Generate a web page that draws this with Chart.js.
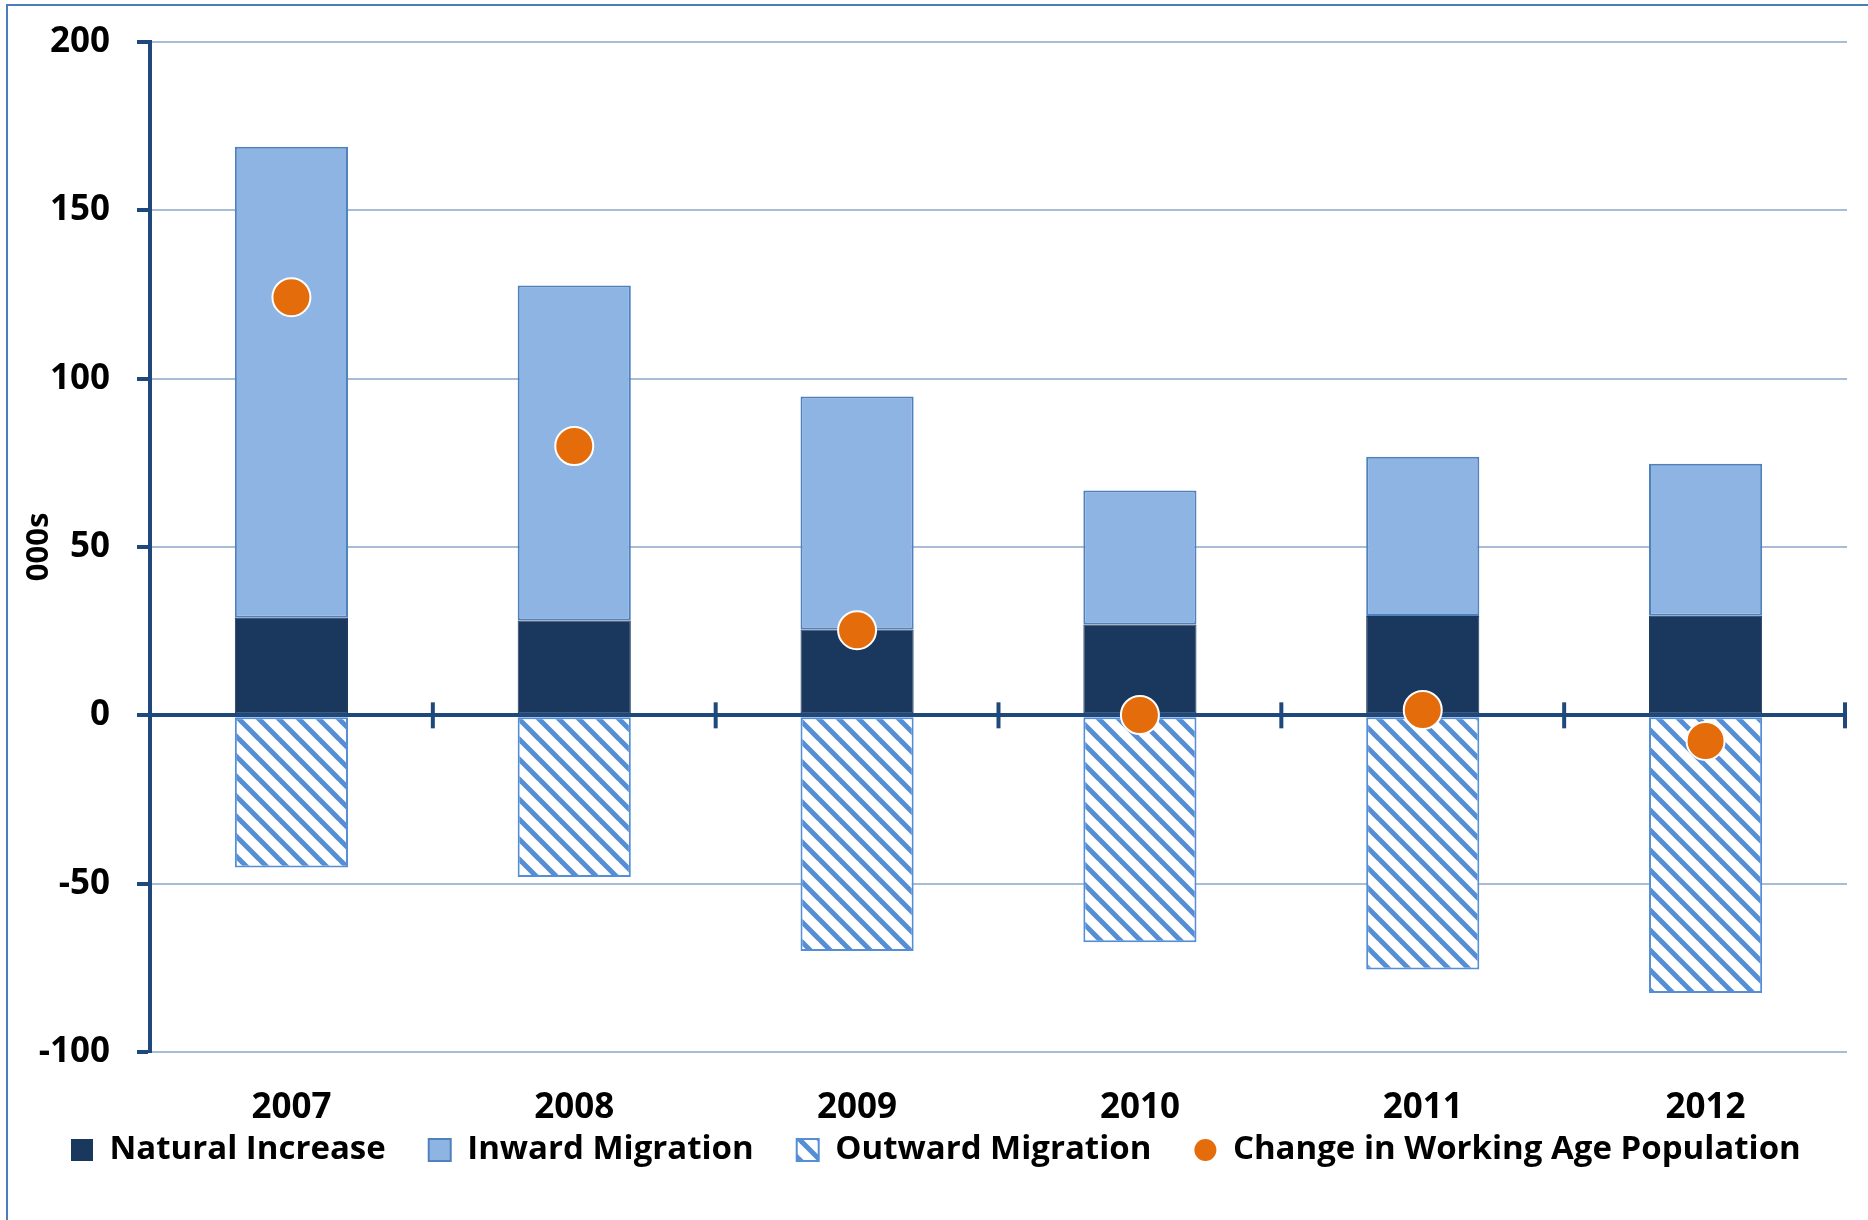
<!DOCTYPE html>
<html><head><meta charset="utf-8">
<script src="https://cdn.jsdelivr.net/npm/chart.js@4.4.0/dist/chart.umd.min.js"></script>
<style>
html,body{margin:0;padding:0;background:#fff;overflow:hidden;}
#frame{position:absolute;left:6px;top:4px;width:1920px;height:1300px;border:2px solid #4A7EBB;box-sizing:border-box;}
#wrap{position:absolute;left:0;top:0;width:1868px;height:1220px;}
</style></head><body>
<div id="frame"></div>
<div id="wrap"><canvas id="c"></canvas></div>
<script>
const years = ['2007','2008','2009','2010','2011','2012'];
const naturalIncrease = [29.0, 28.2, 25.5, 27.0, 29.5, 29.6];
const inwardMigration = [139.9, 99.5, 69.2, 39.8, 47.3, 45.1];
const outwardMigration = [-45.2, -48.0, -70.0, -67.4, -75.5, -82.5];
const workingAgeChange = [124.2, 80.0, 25.3, 0.1, 1.6, -7.6];
const yTicks = [-100, -50, 0, 50, 100, 150, 200];
const seriesNames = ['Natural Increase', 'Inward Migration', 'Outward Migration', 'Change in Working Age Population'];
const yTitle = '000s';

const FONT = "'Open Sans', 'Liberation Sans', sans-serif";
const NAVY = '#1A375E';
const LIGHT = '#8EB4E3';
const LIGHT_BORDER = '#4F81BD';
const HATCH = '#558ED5';
const ORANGE = '#E46C0A';
const AXIS = '#1F497D';
const GRID = '#A9BCD5';

function makeHatch() {
  const s = 20, cv = document.createElement('canvas');
  cv.width = s; cv.height = s;
  const g = cv.getContext('2d');
  g.fillStyle = '#fff'; g.fillRect(0, 0, s, s);
  g.strokeStyle = HATCH; g.lineWidth = 5;
  for (const k of [-1, 0, 1]) {
    g.beginPath(); g.moveTo(k * s - s, -s); g.lineTo(k * s + 2 * s, 2 * s); g.stroke();
  }
  return document.getElementById('c').getContext('2d').createPattern(cv, 'repeat');
}
const hatch = makeHatch();

const zeroAxisTicks = {
  id: 'zeroAxisTicks',
  beforeDraw(chart) {
    // let the category labels show below the (short) x-axis box
    chart.scales.x._computeLabelArea = () => undefined;
  },
  beforeDatasetsDraw(chart) {
    const x = chart.scales.x, y = chart.scales.y;
    const y0 = y.getPixelForValue(0);
    const ctx = chart.ctx;
    ctx.save();
    ctx.strokeStyle = AXIS; ctx.lineWidth = 4;
    for (let i = 0; i < years.length; i++) {
      const px = i < years.length - 1 ? (x.getPixelForValue(i) + x.getPixelForValue(i + 1)) / 2 : x.right - 2;
      ctx.beginPath(); ctx.moveTo(px, y0 - 13); ctx.lineTo(px, y0 + 13); ctx.stroke();
    }
    ctx.restore();
  }
};

new Chart(document.getElementById('c'), {
  type: 'bar',
  data: {
    labels: years,
    datasets: [
      { type: 'line', label: seriesNames[3], data: workingAgeChange, showLine: false, order: 0, stack: 'dots',
        pointRadius: 19, pointHoverRadius: 19, pointBackgroundColor: ORANGE, pointBorderColor: '#fff', pointBorderWidth: 2,
        backgroundColor: ORANGE, borderColor: '#fff' },
      { type: 'bar', label: seriesNames[0], data: naturalIncrease, order: 1, stack: 'main',
        backgroundColor: NAVY, borderColor: NAVY, borderWidth: 1, borderSkipped: false,
        barPercentage: 0.4, categoryPercentage: 1 },
      { type: 'bar', label: seriesNames[1], data: inwardMigration, order: 2, stack: 'main',
        backgroundColor: LIGHT, borderColor: LIGHT_BORDER, borderWidth: 2, borderSkipped: false,
        barPercentage: 0.4, categoryPercentage: 1 },
      { type: 'bar', label: seriesNames[2], data: outwardMigration, order: 3, stack: 'main',
        backgroundColor: hatch, borderColor: HATCH, borderWidth: 2, borderSkipped: false,
        barPercentage: 0.4, categoryPercentage: 1 }
    ]
  },
  options: {
    responsive: true, maintainAspectRatio: false, animation: false,
    layout: { padding: { top: 42, right: 21, left: 28, bottom: 43.5 } },
    plugins: {
      tooltip: { enabled: false },
      legend: {
        position: 'bottom', align: 'start',
        labels: {
          font: { family: FONT, size: 33, weight: 'bold' }, color: '#000',
          boxWidth: 22, boxHeight: 22, padding: 43, useBorderRadius: true,
          generateLabels: () => [
            { text: seriesNames[0], fillStyle: NAVY, strokeStyle: NAVY, lineWidth: 0, borderRadius: 0, fontColor: '#000', hidden: false, datasetIndex: 1 },
            { text: seriesNames[1], fillStyle: LIGHT, strokeStyle: LIGHT_BORDER, lineWidth: 2, borderRadius: 0, fontColor: '#000', hidden: false, datasetIndex: 2 },
            { text: seriesNames[2], fillStyle: hatch, strokeStyle: HATCH, lineWidth: 2, borderRadius: 0, fontColor: '#000', hidden: false, datasetIndex: 3 },
            { text: seriesNames[3], fillStyle: ORANGE, strokeStyle: ORANGE, lineWidth: 0, borderRadius: 11, fontColor: '#000', hidden: false, datasetIndex: 0 }
          ]
        }
      }
    },
    scales: {
      x: {
        stacked: true,
        grid: { display: false }, border: { display: false },
        ticks: { color: '#000', font: { family: FONT, size: 35, weight: 'bold' }, padding: 27 },
        afterFit: s => { s.height = 38.5; }
      },
      y: {
        stacked: true, min: -100, max: 200,
        afterBuildTicks: s => { s.ticks = yTicks.map(v => ({ value: v })); },
        grid: {
          color: c => (c.tick && c.tick.value === 0) ? AXIS : GRID,
          lineWidth: c => (c.tick && c.tick.value === 0) ? 4 : 2,
          tickColor: AXIS, tickWidth: 4, tickLength: 13, drawTicks: true
        },
        border: { color: AXIS, width: 4 },
        ticks: { color: '#000', font: { family: FONT, size: 35, weight: 'bold', lineHeight: 0.7 }, padding: 27 },
        title: { display: true, text: yTitle, color: '#000', font: { family: FONT, size: 31, weight: 'bold', lineHeight: 1.0 }, padding: { top: -4, bottom: 0 } },
        afterFit: s => { s.width = 122; }
      }
    }
  },
  plugins: [zeroAxisTicks]
});
</script>
</body></html>
